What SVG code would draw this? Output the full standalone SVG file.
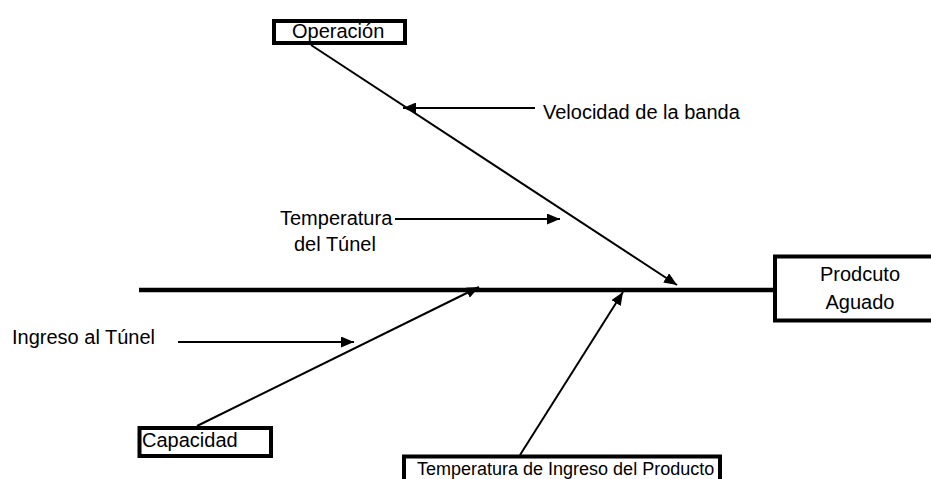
<svg xmlns="http://www.w3.org/2000/svg" width="931" height="479" viewBox="0 0 931 479">
<style>
  .box { fill: #ffffff; stroke: #000000; stroke-width: 4; }
  .lbl { font-family: "Liberation Sans", Arial, sans-serif; font-size: 20px; fill: #000000; }
  .conn { stroke: #000000; stroke-width: 2; fill: none; }
  .spine { stroke: #000000; stroke-width: 4.5; fill: none; }
</style>
<defs>
  <marker id="ah" markerUnits="userSpaceOnUse" markerWidth="13" markerHeight="11" refX="13" refY="5.5" orient="auto">
    <path d="M0,0 L13,5.5 L0,11 z" fill="#000000"/>
  </marker>
</defs>
<rect width="931" height="479" fill="#ffffff"/>
<g id="connectors">
  <line class="spine" x1="139" y1="290" x2="775" y2="290"/>
  <line class="conn" x1="311" y1="45" x2="677" y2="285" marker-end="url(#ah)"/>
  <line class="conn" x1="535" y1="108" x2="403" y2="108" marker-end="url(#ah)"/>
  <line class="conn" x1="395" y1="219" x2="560" y2="219" marker-end="url(#ah)"/>
  <line class="conn" x1="178" y1="342" x2="354" y2="342" marker-end="url(#ah)"/>
  <line class="conn" x1="197" y1="426" x2="479" y2="287" marker-end="url(#ah)"/>
  <line class="conn" x1="520" y1="455" x2="623" y2="292" marker-end="url(#ah)"/>
</g>
<g id="node-operacion">
  <rect class="box" x="274" y="21" width="131" height="22"/>
  <text class="lbl" x="292" y="38">Operación</text>
</g>
<g id="node-producto">
  <rect class="box" x="775" y="256.5" width="200" height="64"/>
  <text class="lbl" x="860" y="281" text-anchor="middle">Prodcuto</text>
  <text class="lbl" x="860" y="309" text-anchor="middle">Aguado</text>
</g>
<g id="node-capacidad">
  <rect class="box" x="139.5" y="428" width="131.5" height="28"/>
  <text class="lbl" x="142" y="447">Capacidad</text>
</g>
<g id="node-temp-ingreso">
  <rect class="box" x="404" y="456.5" width="316" height="40"/>
  <text class="lbl" x="417" y="475" style="font-size:18px">Temperatura de Ingreso del Producto</text>
</g>
<g id="label-velocidad">
  <text class="lbl" x="543" y="119">Velocidad de la banda</text>
</g>
<g id="label-temp-tunel">
  <text class="lbl" x="280" y="225">Temperatura</text>
  <text class="lbl" x="294" y="251">del Túnel</text>
</g>
<g id="label-ingreso">
  <text class="lbl" x="12" y="344">Ingreso al Túnel</text>
</g>
</svg>
